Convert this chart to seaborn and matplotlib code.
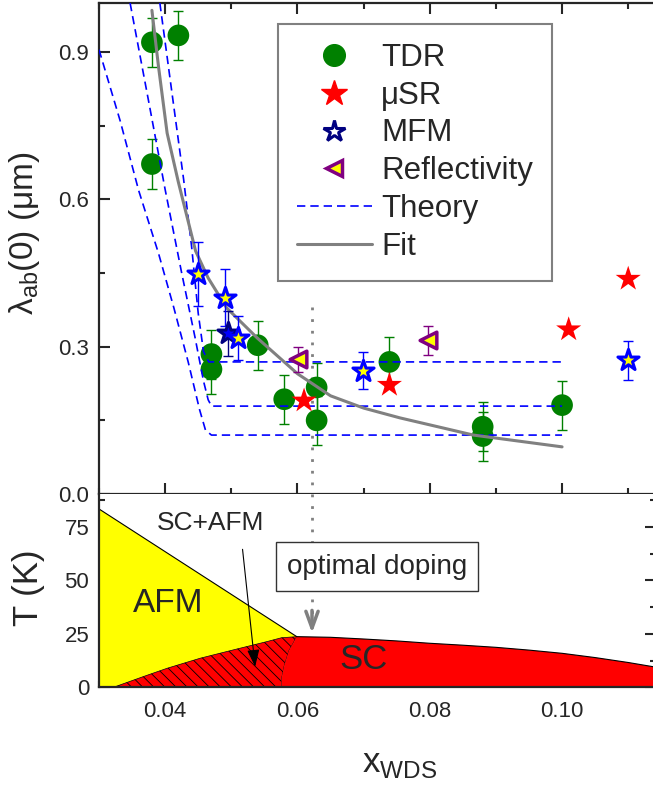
import matplotlib
matplotlib.use("Agg")
import numpy as np
import matplotlib.pyplot as plt
import seaborn as sns
from matplotlib.lines import Line2D
from matplotlib.patches import Polygon
from matplotlib.ticker import MultipleLocator, FormatStrFormatter

# ---------------------------------------------------------------------------
# Data
# ---------------------------------------------------------------------------

# top panel: penetration depth lambda_ab(0) in um vs x_WDS
tdr_x   = [0.0380, 0.0420, 0.0380, 0.0470, 0.0470, 0.0540, 0.0580, 0.0629, 0.0629, 0.0739, 0.0880, 0.0880, 0.1000]
tdr_y   = [0.920, 0.934, 0.672, 0.285, 0.254, 0.303, 0.193, 0.217, 0.150, 0.269, 0.137, 0.118, 0.181]
tdr_err = [0.05] * 13

musr_x = [0.0610, 0.0739, 0.1010, 0.1100]
musr_y = [0.190, 0.222, 0.335, 0.438]

mfm_x   = [0.0449, 0.0491, 0.0510, 0.0699, 0.1100]
mfm_y   = [0.448, 0.400, 0.318, 0.251, 0.272]
mfm_err = [0.065, 0.058, 0.045, 0.038, 0.040]

mfm2_x   = [0.0495]
mfm2_y   = [0.327]
mfm2_err = [0.045]

refl_x   = [0.0601, 0.0798]
refl_y   = [0.274, 0.313]
refl_err = [0.025, 0.030]

theory_a_x = [0.0300, 0.0332, 0.0360, 0.0390, 0.0413, 0.0435, 0.0452, 0.0461, 0.0470, 0.1000]
theory_a_y = [0.905, 0.760, 0.618, 0.490, 0.380, 0.268, 0.172, 0.130, 0.120, 0.120]
theory_b_x = [0.0347, 0.0375, 0.0400, 0.0425, 0.0445, 0.0458, 0.0465, 0.0470, 0.1000]
theory_b_y = [1.000, 0.800, 0.620, 0.450, 0.320, 0.230, 0.192, 0.179, 0.179]
theory_c_x = [0.0392, 0.0410, 0.0428, 0.0440, 0.0450, 0.0458, 0.0466, 0.1000]
theory_c_y = [1.000, 0.820, 0.640, 0.504, 0.368, 0.290, 0.269, 0.269]

fit_x = [0.0380, 0.0390, 0.0403, 0.0420, 0.0446, 0.0465, 0.0493, 0.0539, 0.0600,
         0.0650, 0.0700, 0.0755, 0.0866, 0.1000]
fit_y = [0.985, 0.870, 0.735, 0.635, 0.495, 0.440, 0.379, 0.318, 0.245,
         0.200, 0.175, 0.155, 0.120, 0.096]

# bottom panel: phase diagram T (K) vs x_WDS
afm_line_x = [0.0300, 0.0599]
afm_line_y = [83.5, 23.7]
coex_top_x = [0.0322, 0.0367, 0.0403, 0.0453, 0.0503, 0.0554, 0.0576, 0.0599]
coex_top_y = [0.0, 5.0, 8.9, 13.6, 17.5, 21.4, 23.2, 23.7]
coex_right_x = [0.0599, 0.0587, 0.0580, 0.0576, 0.0576]
coex_right_y = [23.7, 17.0, 10.0, 4.0, 0.0]
sc_top_x = [0.0599, 0.0650, 0.0700, 0.0750, 0.0800, 0.0850, 0.0900, 0.0950,
            0.1000, 0.1050, 0.1100, 0.1142]
sc_top_y = [23.7, 23.4, 22.6, 21.7, 20.6, 19.7, 18.7, 17.4,
            15.9, 13.9, 11.6, 9.4]

X_LIM   = (0.0300, 0.1142)
Y1_LIM  = (0.0, 1.0)
Y2_LIM  = (0.0, 90.5)
OPT_X   = 0.0622

GREEN  = "#008000"
RED    = "#ff0000"
BLUE   = "#0000ff"
NAVY   = "#000080"
PURPLE = "#800080"
YELLOW = "#ffff00"
GRAY   = "#808080"

# ---------------------------------------------------------------------------
# Style
# ---------------------------------------------------------------------------

sns.set_theme(style="ticks")
plt.rcParams["font.family"] = ["Liberation Sans", "DejaVu Sans"]
plt.rcParams["mathtext.fontset"] = "custom"
plt.rcParams["mathtext.rm"] = "Liberation Sans"
plt.rcParams["hatch.linewidth"] = 0.6
plt.rcParams["axes.linewidth"] = 1.6

fig = plt.figure(figsize=(6.53, 7.85), dpi=100)
ax1 = fig.add_axes([0.1516, 0.3707, 0.853, 0.6255])
ax2 = fig.add_axes([0.1516, 0.1245, 0.853, 0.2462])

# ---------------------------------------------------------------------------
# Top panel
# ---------------------------------------------------------------------------

dash = (0, (5, 3))
for tx, ty in [(theory_a_x, theory_a_y), (theory_b_x, theory_b_y), (theory_c_x, theory_c_y)]:
    sns.lineplot(x=tx, y=ty, sort=False, estimator=None, ax=ax1,
                 color=BLUE, lw=1.2, linestyle=dash, zorder=4)

sns.lineplot(x=[OPT_X, OPT_X], y=[0.38, 0.0], sort=False, estimator=None, ax=ax1,
             color=GRAY, lw=2.0, linestyle=(0, (1, 3.2)), zorder=1)

ax1.errorbar(tdr_x, tdr_y, yerr=tdr_err, fmt="none", ecolor=GREEN,
             elinewidth=1.0, capsize=3.6, capthick=1.0, zorder=2)
sns.scatterplot(x=tdr_x, y=tdr_y, ax=ax1, color=GREEN, marker="o",
                s=15.6 ** 2, edgecolor="none", zorder=3)

sns.lineplot(x=fit_x, y=fit_y, sort=False, estimator=None, ax=ax1,
             color=GRAY, lw=2.2, zorder=5)

ax1.errorbar(refl_x, refl_y, yerr=refl_err, fmt="none", ecolor=PURPLE,
             elinewidth=1.0, capsize=3.6, capthick=1.0, zorder=6)
sns.scatterplot(x=refl_x, y=refl_y, ax=ax1, color=YELLOW, marker="<",
                s=12 ** 2, edgecolor=PURPLE, linewidth=2.5, zorder=7)

ax1.errorbar(mfm2_x, mfm2_y, yerr=mfm2_err, fmt="none", ecolor=NAVY,
             elinewidth=1.0, capsize=3.6, capthick=1.0, zorder=6)
sns.scatterplot(x=mfm2_x, y=mfm2_y, ax=ax1, color=BLUE, marker="*",
                s=16 ** 2, edgecolor=NAVY, linewidth=2.2, zorder=7)

ax1.errorbar(mfm_x, mfm_y, yerr=mfm_err, fmt="none", ecolor=BLUE,
             elinewidth=1.0, capsize=3.6, capthick=1.0, zorder=6)
sns.scatterplot(x=mfm_x, y=mfm_y, ax=ax1, color=YELLOW, marker="*",
                s=16 ** 2, edgecolor=BLUE, linewidth=2.2, zorder=8)

sns.scatterplot(x=musr_x, y=musr_y, ax=ax1, color=RED, marker="*",
                s=19 ** 2, edgecolor="none", zorder=9)

ax1.set_xlim(*X_LIM)
ax1.set_ylim(*Y1_LIM)
ax1.xaxis.set_major_locator(MultipleLocator(0.02))
ax1.xaxis.set_minor_locator(MultipleLocator(0.01))
ax1.yaxis.set_major_locator(MultipleLocator(0.3))
ax1.yaxis.set_minor_locator(MultipleLocator(0.15))
ax1.yaxis.set_major_formatter(FormatStrFormatter("%.1f"))
ax1.tick_params(which="both", direction="in", top=True, right=False,
                labelbottom=False, labelsize=16, width=1.5, pad=7)
ax1.tick_params(which="major", length=8)
ax1.tick_params(which="minor", length=4.5)
ax1.set_xlabel("")
ax1.set_ylabel("λ$_\\mathregular{ab}$(0) (μm)", fontsize=24)
ax1.yaxis.set_label_coords(-0.102, 0.53)

handles = [
    Line2D([], [], marker="o", color=GREEN, ls="none", ms=15.6, label="TDR"),
    Line2D([], [], marker="*", color=RED, ls="none", ms=19, label="μSR"),
    Line2D([], [], marker="*", mfc="white", mec=NAVY, mew=2.2, ls="none", ms=16, label="MFM"),
    Line2D([], [], marker="<", mfc=YELLOW, mec=PURPLE, mew=2.5, ls="none", ms=12, label="Reflectivity"),
    Line2D([], [], color=BLUE, ls=dash, lw=1.2, label="Theory"),
    Line2D([], [], color=GRAY, lw=2.2, label="Fit"),
]
leg = ax1.legend(handles=handles, loc="upper left", bbox_to_anchor=(0.321, 0.957),
                 borderaxespad=0, fontsize=22.5, handlelength=2.4, handletextpad=0.3,
                 labelspacing=0.25, borderpad=0.6, fancybox=False, framealpha=1,
                 edgecolor=GRAY)
leg.get_frame().set_linewidth(1.5)

# ---------------------------------------------------------------------------
# Bottom panel
# ---------------------------------------------------------------------------

afm_poly = np.column_stack([
    [X_LIM[0], X_LIM[0]] + coex_top_x[::-1],
    [0.0, afm_line_y[0]] + coex_top_y[::-1],
])
ax2.add_patch(Polygon(afm_poly, closed=True, facecolor=YELLOW, edgecolor="none", zorder=1))

coex_poly = np.column_stack([coex_top_x + coex_right_x[1:], coex_top_y + coex_right_y[1:]])
ax2.add_patch(Polygon(coex_poly, closed=True, facecolor=RED, edgecolor="black",
                      hatch="\\\\\\", linewidth=0.5, zorder=2))

sc_poly = np.column_stack([
    coex_right_x[::-1] + sc_top_x[1:] + [sc_top_x[-1]],
    coex_right_y[::-1] + sc_top_y[1:] + [0.0],
])
ax2.add_patch(Polygon(sc_poly, closed=True, facecolor=RED, edgecolor="none", zorder=2))

sns.lineplot(x=afm_line_x, y=afm_line_y, sort=False, estimator=None, ax=ax2,
             color="black", lw=0.8, zorder=3)
sns.lineplot(x=sc_top_x, y=sc_top_y, sort=False, estimator=None, ax=ax2,
             color="black", lw=0.8, zorder=3)

# optimal doping marker
sns.lineplot(x=[OPT_X, OPT_X], y=[Y2_LIM[1], 33.0], sort=False, estimator=None, ax=ax2,
             color=GRAY, lw=2.0, linestyle=(0, (1, 3.2)), zorder=4)
ax2.annotate("", xy=(OPT_X, 25.4), xytext=(OPT_X, 36.0),
             arrowprops=dict(arrowstyle="->,head_length=0.6,head_width=0.22",
                             color=GRAY, lw=2.5, mutation_scale=20,
                             shrinkA=0, shrinkB=0), zorder=5)
ax2.text(0.0720, 56.5, "optimal doping", ha="center", va="center", fontsize=20,
         zorder=10, bbox=dict(boxstyle="square,pad=0.4", facecolor="white",
                              edgecolor="#333333", linewidth=1.0))

ax2.text(0.0405, 39.0, "AFM", ha="center", va="center", fontsize=24, zorder=6)
ax2.text(0.0700, 12.8, "SC", ha="center", va="center", fontsize=25, zorder=6)
ax2.text(0.0469, 76.8, "SC+AFM", ha="center", va="center", fontsize=19, zorder=6)
ax2.annotate("", xy=(0.0536, 9.6), xytext=(0.0517, 64.6),
             arrowprops=dict(arrowstyle="-|>,head_length=0.7,head_width=0.25",
                             color="black", lw=0.8, mutation_scale=15,
                             shrinkA=0, shrinkB=0), zorder=7)

ax2.set_xlim(*X_LIM)
ax2.set_ylim(*Y2_LIM)
ax2.xaxis.set_major_locator(MultipleLocator(0.02))
ax2.xaxis.set_minor_locator(MultipleLocator(0.01))
ax2.xaxis.set_major_formatter(FormatStrFormatter("%.2f"))
ax2.yaxis.set_major_locator(MultipleLocator(25))
ax2.yaxis.set_minor_locator(MultipleLocator(12.5))
ax2.tick_params(which="both", direction="in", top=False, right=True,
                labelsize=16, width=1.5, pad=7)
ax2.tick_params(axis="x", which="both", pad=10)
ax2.tick_params(which="major", length=8)
ax2.tick_params(which="minor", length=4.5)
ax2.spines["top"].set_visible(False)
for sp in ax2.spines.values():
    sp.set_zorder(20)
ax2.set_xlabel("x$_\\mathregular{WDS}$", fontsize=25)
ax2.xaxis.set_label_coords(0.54, -0.31)
ax2.set_ylabel("T (K)", fontsize=25)
ax2.yaxis.set_label_coords(-0.097, 0.514)

fig.savefig("out.png", dpi=100)
